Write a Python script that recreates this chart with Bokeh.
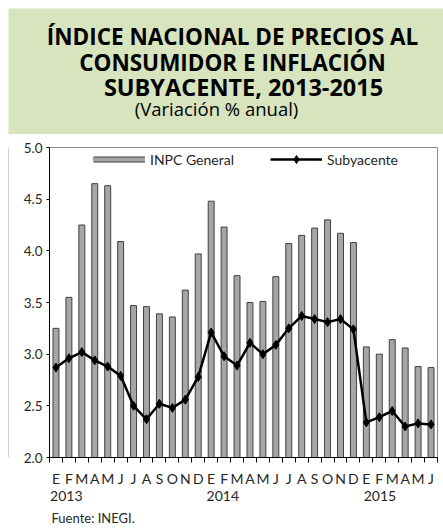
from bokeh.plotting import figure
from bokeh.layouts import column, row
from bokeh.models import (Range1d, FixedTicker, LinearAxis, Legend, LegendItem,
                          Label, Title, ColumnDataSource, PrintfTickFormatter)
from bokeh.embed import file_html
from bokeh.resources import INLINE

# ---------------- data ----------------
months = ["E", "F", "M", "A", "M", "J", "J", "A", "S", "O", "N", "D",
          "E", "F", "M", "A", "M", "J", "J", "A", "S", "O", "N", "D",
          "E", "F", "M", "A", "M", "J"]
years = ["2013", "2014", "2015"]
year_pos = [0.8, 12.9, 25.05]
inpc = [3.25, 3.55, 4.25, 4.65, 4.63, 4.09, 3.47, 3.46, 3.39, 3.36, 3.62, 3.97,
        4.48, 4.23, 3.76, 3.50, 3.51, 3.75, 4.07, 4.15, 4.22, 4.30, 4.17, 4.08,
        3.07, 3.00, 3.14, 3.06, 2.88, 2.87]
suby = [2.87, 2.96, 3.02, 2.94, 2.88, 2.79, 2.50, 2.37, 2.52, 2.48, 2.56, 2.78,
        3.21, 2.98, 2.89, 3.11, 3.00, 3.09, 3.25, 3.37, 3.34, 3.31, 3.34, 3.24,
        2.34, 2.39, 2.45, 2.30, 2.33, 2.32]
y_ticks = [2.0, 2.5, 3.0, 3.5, 4.0, 4.5, 5.0]

title_lines = ["ÍNDICE NACIONAL DE PRECIOS AL", "CONSUMIDOR E INFLACIÓN",
               "SUBYACENTE, 2013-2015"]
subtitle = "(Variación % anual)"
source_note = "Fuente: INEGI."

FONT = "Lato"
TXT = "#262626"
GREEN = "#d7e4bd"

# ---------------- title block ----------------
TW, TH = 443, 134
t = figure(width=TW, height=TH, output_backend="svg", toolbar_location=None,
           x_range=Range1d(8, TW), y_range=Range1d(TH, 8),
           x_axis_location=None, y_axis_location=None, title=None,
           min_border_left=8, min_border_top=8, min_border_right=0, min_border_bottom=0)
t.grid.visible = False
t.outline_line_color = None
t.background_fill_color = GREEN
t.border_fill_color = "white"
for txt, cx, base, fs in zip(title_lines, [232, 232, 243], [36, 62, 86],
                             ["22.5px", "22.5px", "23.5px"]):
    t.add_layout(Label(x=cx, y=base, text=txt, text_align="center",
                       text_baseline="alphabetic", text_font="Open Sans",
                       text_font_style="bold", text_font_size=fs,
                       text_color="black"))
t.add_layout(Label(x=216, y=108, text=subtitle, text_align="center",
                   text_baseline="alphabetic", text_font="Open Sans",
                   text_font_size="18.5px", text_color="black"))

# ---------------- left border strip ----------------
BH = 529 - TH
s = figure(width=9, height=BH, output_backend="svg", toolbar_location=None,
           x_range=Range1d(0, 1), y_range=Range1d(0, 1),
           x_axis_location=None, y_axis_location=None, title=None,
           min_border_left=8, min_border_right=0, min_border_top=0, min_border_bottom=0)
s.grid.visible = False
s.outline_line_color = None
s.background_fill_color = "#a6a6a6"
s.border_fill_color = "white"

# ---------------- chart ----------------
W = 443 - 9
ML, MR, MT, MB = 40, 6, 13, 71

x = list(range(len(months)))
src = ColumnDataSource(dict(x=x, inpc=inpc, suby=suby))

p = figure(width=W, height=BH, output_backend="svg", toolbar_location=None,
           x_range=Range1d(-0.5, len(months) - 0.5), y_range=Range1d(2.0, 5.0),
           x_axis_location=None, y_axis_location=None, title=None,
           min_border_left=ML, min_border_right=MR, min_border_top=MT, min_border_bottom=MB)
p.grid.visible = False
p.outline_line_color = "#8c8c8c"
p.outline_line_width = 1
p.background_fill_color = "white"
p.border_fill_color = "white"

# y axis
yax = LinearAxis(ticker=FixedTicker(ticks=y_ticks), formatter=PrintfTickFormatter(format="%.1f"))
yax.axis_line_color = "black"
yax.major_tick_in = 0
yax.major_tick_out = 3
yax.major_tick_line_color = "black"
yax.minor_tick_line_color = None
yax.major_label_standoff = 4
yax.major_label_text_font = FONT
yax.major_label_text_font_size = "13.5px"
yax.major_label_text_color = TXT
p.add_layout(yax, "left")

# month axis
minor = [i - 0.5 for i in range(len(months) + 1)]
xax = LinearAxis(ticker=FixedTicker(ticks=x, minor_ticks=minor),
                 major_label_overrides={i: m for i, m in enumerate(months)})
xax.axis_line_color = "black"
xax.major_tick_line_color = None
xax.major_tick_in = 0
xax.major_tick_out = 5
xax.minor_tick_in = 0
xax.minor_tick_out = 5
xax.minor_tick_line_color = "black"
xax.major_label_standoff = 7
xax.major_label_text_font = FONT
xax.major_label_text_font_size = "14px"
xax.major_label_text_color = TXT
p.add_layout(xax, "below")

# year axis
yrax = LinearAxis(ticker=FixedTicker(ticks=year_pos),
                  major_label_overrides={pos: yr for pos, yr in zip(year_pos, years)})
yrax.axis_line_color = None
yrax.major_tick_line_color = None
yrax.minor_tick_line_color = None
yrax.major_tick_in = 0
yrax.major_tick_out = 0
yrax.major_label_standoff = 1
yrax.major_label_text_font = FONT
yrax.major_label_text_font_size = "14px"
yrax.major_label_text_color = TXT
p.add_layout(yrax, "below")

# source note
p.add_layout(Title(text=source_note, align="left", offset=2, standoff=8,
                   text_font=FONT, text_font_size="13px", text_font_style="normal",
                   text_color=TXT), "below")

# bars and line
p.vbar(x="x", top="inpc", bottom=2.0, width=0.46, source=src,
       fill_color="#a6a6a6", line_color="#404040", line_width=1)
ln = p.line(x="x", y="suby", source=src, line_color="black", line_width=2.5)
sc = p.scatter(x="x", y="suby", source=src, marker="diamond", size=9,
               fill_color="black", line_color="black")

# legend proxies for the bar swatch (NaN data: nothing drawn in the plot)
nan = float("nan")
pa = p.line(x=[nan], y=[nan], line_color="#404040", line_width=6, line_cap="butt")
pb = p.line(x=[nan], y=[nan], line_color="#a6a6a6", line_width=4, line_cap="butt")

legend = Legend(items=[LegendItem(label="INPC General", renderers=[pa, pb]),
                       LegendItem(label="Subyacente", renderers=[ln, sc])],
                orientation="horizontal", location=(44, 288),
                glyph_width=52, glyph_height=20, label_height=20, label_width=120,
                label_standoff=5, spacing=0, padding=0, margin=0,
                border_line_color=None, background_fill_alpha=0,
                label_text_font=FONT, label_text_font_size="14px",
                label_text_color=TXT)
p.add_layout(legend)

layout = column(t, row(s, p))
open("out.html", "w").write(file_html(layout, INLINE))
